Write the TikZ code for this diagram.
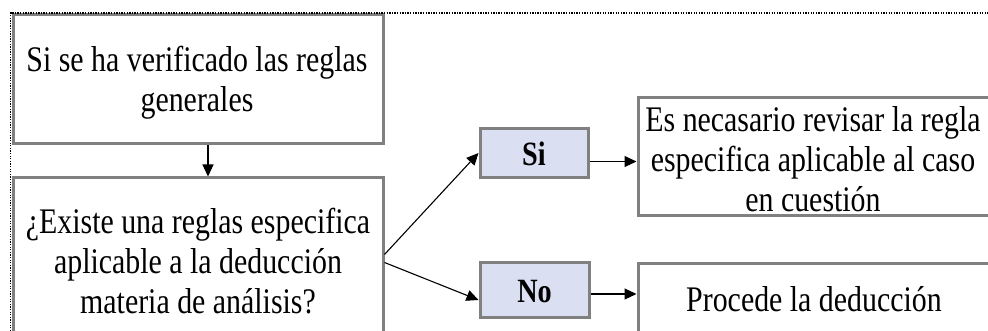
\documentclass[tikz,border=0pt]{standalone}
\usepackage{fontspec}
\setmainfont{Liberation Serif}[FakeStretch=0.83]
\usetikzlibrary{arrows.meta}
\definecolor{boxgray}{HTML}{808080}
\definecolor{boxblue}{HTML}{DAE0F2}
\tikzset{
  box/.style={draw=boxgray, line width=3pt, inner sep=0pt, rectangle},
  choice/.style={box, fill=boxblue},
  txt/.style={align=center, inner sep=0pt, font=\fontsize{36}{40}\selectfont},
  arr/.style={line width=1.1pt, -{Triangle[length=12pt,width=11pt]}},
  frameline/.style={line width=1.3pt, dash pattern=on 1.3pt off 1.3pt}
}
\begin{document}
\begin{tikzpicture}[x=1pt,y=-1pt]
\useasboundingbox (0,0) rectangle (988,331);
\clip (0,0) rectangle (988,331);
% boxes
\node[box, minimum width=370pt, minimum height=129pt] (b1) at (198,79.5) {};
\node[box, minimum width=370pt, minimum height=167pt] (b2) at (198,261.5) {};
\node[choice, minimum width=108pt, minimum height=49pt] (si) at (534,153.5) {};
\node[choice, minimum width=109pt, minimum height=55pt] (no) at (534.5,289.5) {};
\node[box, minimum width=352pt, minimum height=118pt] (b3) at (814,157) {};
\node[box, minimum width=352pt, minimum height=82pt] (b4) at (814,304) {};
% texts
\node[txt] (t1) at (197,83) {Si se ha verificado las reglas\\generales};
\node[txt] (t2) at (198,261) {¿Existe una reglas especifica\\aplicable a la deducción\\materia de análisis?};
\node[txt, font=\fontsize{34}{40}\selectfont\bfseries] (tsi) at (534,154) {Si};
\node[txt, font=\fontsize{34}{40}\selectfont\bfseries] (tno) at (534.5,292) {No};
\node[txt] (t3) at (813,159) {Es necasario revisar la regla\\especifica aplicable al caso\\en cuestión};
\node[txt] (t4) at (814,299) {Procede la deducción};
% connectors
\coordinate (siout) at ([yshift=-8pt]si.east);
\coordinate (noout) at ([yshift=-4.5pt]no.east);
\draw[arr] ([xshift=10pt]b1.south) -- ([xshift=10pt]b2.north);
\draw[arr] ([yshift=7pt]b2.east) -- ([yshift=0.5pt]si.west);
\draw[arr] ([yshift=-1pt]b2.east) -- ([yshift=-10.5pt]no.west);
\draw[arr] (siout) -- (siout -| b3.west);
\draw[arr] (noout) -- (noout -| b4.west);
% dotted frame
\coordinate (fl) at (10.5,331);
\coordinate (fc) at (10.5,13);
\coordinate (fr) at (988,13);
\draw[frameline] (fl) -- (fc) -- (fr);
\end{tikzpicture}
\end{document}
